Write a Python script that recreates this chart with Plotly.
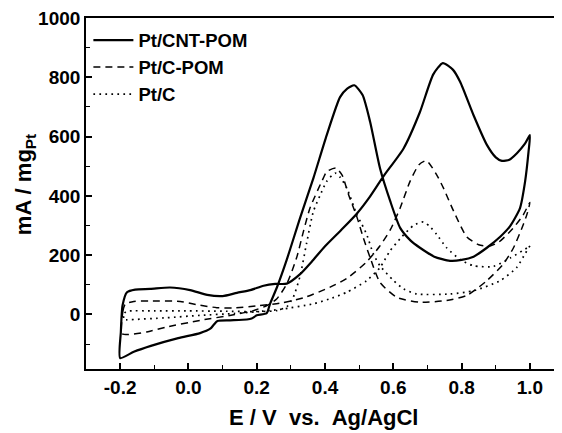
import plotly.graph_objects as go

# ---- data (E in V vs Ag/AgCl, j in mA/mg_Pt), closed CV loops ----
cnt_pom_E = [-0.200, -0.198, -0.193, -0.180, -0.156, -0.112, -0.054, 0.005, 0.055, 0.100,
             0.142, 0.181, 0.220, 0.254, 0.288, 0.327, 0.361, 0.400, 0.444, 0.493,
             0.530, 0.571, 0.630, 0.678, 0.717, 0.745, 0.775, 0.796, 0.835, 0.874,
             0.900, 0.918, 0.940, 0.962, 0.985, 1.000,
             0.996, 0.986, 0.971, 0.942, 0.913, 0.874, 0.835, 0.800, 0.766, 0.720,
             0.678, 0.650, 0.620, 0.591, 0.561, 0.532, 0.510, 0.486, 0.465, 0.444,
             0.405, 0.366, 0.327, 0.288, 0.259, 0.239, 0.229, 0.200, 0.185, 0.171,
             0.122, 0.085, 0.074, 0.064, 0.034, -0.030, -0.110, -0.160, -0.200]
cnt_pom_j = [-147, -60, 30, 75, 84, 86, 91, 82, 66, 62,
             73, 82, 97, 103, 104, 136, 178, 230, 281, 340,
             395, 466, 560, 683, 810, 848, 825, 784, 672, 572,
             530, 518, 522, 544, 575, 605,
             549, 449, 359, 298, 262, 225, 195, 184, 181, 195,
             225, 250, 292, 382, 493, 650, 740, 773, 762, 733,
             605, 460, 326, 185, 91, 36, 4, -3, -14, -17,
             -20, -22, -35, -48, -63, -80, -106, -126, -147]

c_pom_E = [-0.195, -0.192, -0.185, -0.160, -0.110, -0.024, 0.034, 0.083, 0.131, 0.200,
           0.268, 0.337, 0.415, 0.464, 0.520, 0.560, 0.591, 0.620, 0.649, 0.675,
           0.697, 0.727, 0.747, 0.776, 0.815, 0.850, 0.880, 0.910, 0.950, 0.980, 1.000,
           0.992, 0.981, 0.952, 0.922, 0.874, 0.815, 0.756, 0.678, 0.610, 0.561,
           0.532, 0.512, 0.493, 0.469, 0.450, 0.432, 0.405, 0.395, 0.356, 0.337,
           0.317, 0.288, 0.259, 0.230, 0.190, 0.132, 0.034, -0.063, -0.122, -0.176, -0.195]
c_pom_j = [-65, 10, 35, 44, 45, 44, 31, 23, 22, 29,
           38, 56, 92, 122, 175, 230, 285, 359, 449, 505,
           519, 471, 426, 350, 262, 235, 230, 245, 290, 335, 378,
           340, 304, 225, 170, 114, 64, 47, 41, 58, 108,
           192, 259, 330, 404, 470, 494, 482, 460, 359, 281,
           192, 103, 53, 30, 13, -1, -20, -42, -59, -68, -65]

pt_c_E = [-0.190, -0.187, -0.180, -0.100, 0.000, 0.100, 0.200, 0.269, 0.366, 0.420,
          0.464, 0.522, 0.561, 0.590, 0.625, 0.659, 0.688, 0.708, 0.727, 0.756,
          0.796, 0.835, 0.893, 0.942, 0.996, 1.000,
          0.986, 0.961, 0.913, 0.835, 0.766, 0.669, 0.630, 0.600, 0.561, 0.542,
          0.522, 0.508, 0.493, 0.464, 0.445, 0.430, 0.405, 0.385, 0.366, 0.346,
          0.327, 0.307, 0.288, 0.259, 0.200, 0.132, 0.034, -0.063, -0.180, -0.190]
pt_c_j = [-18, 5, 11, 12, 12, 11, 10, 17, 36, 55,
          75, 114, 158, 214, 262, 300, 312, 295, 270, 225,
          185, 164, 162, 190, 228, 232,
          205, 158, 114, 80, 69, 69, 86, 115, 164, 203,
          270, 304, 337, 426, 462, 477, 449, 400, 348, 240,
          130, 58, 26, 13, 9, 3, -3, -11, -18, -18]

series_names = ["Pt/CNT-POM", "Pt/C-POM", "Pt/C"]

x_tickvals = [-0.2, 0.0, 0.2, 0.4, 0.6, 0.8, 1.0]
x_ticktext = ["-0.2", "0.0", "0.2", "0.4", "0.6", "0.8", "1.0"]
y_tickvals = [0, 200, 400, 600, 800, 1000]
y_ticktext = ["0", "200", "400", "600", "800", "1000"]

FONT = "Liberation Sans"

fig = go.Figure()
fig.add_trace(go.Scatter(x=cnt_pom_E, y=cnt_pom_j, mode="lines", name=series_names[0],
                         line=dict(color="black", width=2.2, shape="spline", smoothing=0.6)))
fig.add_trace(go.Scatter(x=c_pom_E, y=c_pom_j, mode="lines", name=series_names[1],
                         line=dict(color="black", width=1.5, dash="7px,5px", shape="spline", smoothing=0.6)))
fig.add_trace(go.Scatter(x=pt_c_E, y=pt_c_j, mode="lines", name=series_names[2],
                         line=dict(color="black", width=1.7, dash="1.7px,4.3px", shape="spline", smoothing=0.6)))

# the page body has an 8px margin, so the figure is shrunk by 8px and margins reduced accordingly
fig.update_layout(
    width=554, height=425,
    margin=dict(l=78, r=0, t=8, b=64),
    paper_bgcolor="white", plot_bgcolor="white",
    showlegend=True,
    legend=dict(x=0.005, y=0.990, xanchor="left", yanchor="top",
                bgcolor="rgba(0,0,0,0)", borderwidth=0,
                font=dict(family=FONT, size=18.5, color="black", weight="bold"),
                tracegroupgap=0, itemwidth=40),
    font=dict(family=FONT, color="black"),
)

fig.update_xaxes(
    range=[-0.3, 1.094], showgrid=False, zeroline=False,
    showline=True, linecolor="black", linewidth=1.6, mirror=True,
    tickmode="array", tickvals=x_tickvals, ticktext=x_ticktext,
    ticks="inside", ticklen=6, tickwidth=1.5, tickcolor="black",
    ticklabeloverflow="allow",
    tickfont=dict(family=FONT, size=19, color="black", weight="bold"),
    minor=dict(ticks="inside", tickmode="linear", tick0=-0.3, dtick=0.1, ticklen=4,
               tickwidth=1.2, tickcolor="black", showgrid=False),
)
fig.update_yaxes(
    range=[-184, 1000], showgrid=False, zeroline=False,
    showline=True, linecolor="black", linewidth=1.6, mirror=False,
    tickmode="array", tickvals=y_tickvals, ticktext=y_ticktext,
    ticks="inside", ticklen=6, tickwidth=1.5, tickcolor="black",
    ticklabeloverflow="allow",
    tickfont=dict(family=FONT, size=19, color="black", weight="bold"),
    minor=dict(ticks="inside", tickmode="linear", tick0=-100, dtick=200, ticklen=4,
               tickwidth=1.2, tickcolor="black", showgrid=False),
)

fig.add_annotation(text="E / V\u00a0\u00a0vs.\u00a0\u00a0Ag/AgCl", xref="paper", yref="paper",
                   x=0.498, y=-0.139, xanchor="center", yanchor="middle", showarrow=False,
                   font=dict(family=FONT, size=22, color="black", weight="bold"))
fig.add_annotation(text="mA / mg<sub>Pt</sub>", xref="paper", yref="paper",
                   x=-0.128, y=0.524, xanchor="center", yanchor="middle", showarrow=False,
                   textangle=-90,
                   font=dict(family=FONT, size=22, color="black", weight="bold"))

fig.write_html("out.html")
